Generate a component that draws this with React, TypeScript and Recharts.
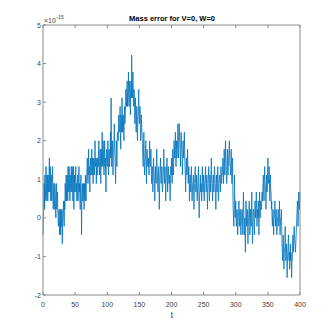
import React from 'react';
import { LineChart, Line, XAxis, YAxis } from 'recharts';

// mass error, in units of 1e-15, at whole steps t = 0..400
const seg000 = [
  -0.44, 0.22, 0.67, 1.11, 0.67, 1.33, 0.44, 0.89, 1.11, 0.67,
  1.55, 0.89, 0.44, 1.11, 0.67, 1.33, 0.22, 0.89, 0.44, 0.67,
  0, 0.89, 0.44, 0.22, -0.22, 0.22, -0.44, 0, 0.22, -0.22,
  -0.67, 0, 0.44, -0.22, 0.22, 0.67, 1.11, 0.44, 0.89, 1.33,
  0.67, 1.11, 0.44, 0.89, 1.33, 0.67, 1.11, 0.89, 0.22, 1.11,
];
const seg050 = [
  0.67, 1.33, 0.89, 0.44, 1.11, 0.67, 1.33, 0.89, 0.22, 1.11,
  -0.44, 0.67, 0.44, 0.89, 0.22, 0.67, 1.11, 0.44, 1.11, 1.55,
  0.89, 1.78, 1.33, 0.67, 1.55, 1.11, 1.78, 1.33, 0.89, 1.55,
  1.11, 2, 1.33, 0.89, 1.55, 1.11, 1.33, 2, 1.11, 1.78,
  0.89, 1.55, 2.22, 1.33, 1.78, 1.11, 2, 1.55, 0.67, 1.78,
];
const seg100 = [
  1.33, 2, 1.11, 1.78, 1.55, 2.22, 3.11, 1.33, 2, 1.11,
  1.78, 2.44, 1.55, 0.89, 2, 1.33, 2.22, 2, 2.67, 2.22,
  2.89, 1.78, 2.44, 3.11, 2.22, 2.67, 2, 2.89, 2.67, 3.33,
  2.89, 3.55, 3.11, 3.78, 2.89, 3.33, 2.67, 3.55, 4.22, 3.11,
  3.78, 2.89, 3.33, 2.44, 3.11, 2.22, 2.89, 2, 2.67, 3.33,
];
const seg150 = [
  2.44, 2.89, 2, 2.67, 2.22, 1.78, 1.33, 2.22, 1.11, 1.55,
  2, 0.89, 1.78, 1.33, 1.55, 1.11, 2, 1.33, 1.78, 0.89,
  1.33, 0.67, 1.55, 1.11, 0.44, 1.33, 0.89, 1.78, 1.11, 0.67,
  1.33, 0.22, 1.11, 1.55, 0.89, 1.33, 0.67, 1.11, 1.78, 0.89,
  1.33, 0.44, 1.11, 1.55, 0.67, 1.33, 0.89, 1.11, 0.44, 1.33,
];
const seg200 = [
  1.55, 0.89, 1.78, 1.11, 2, 1.55, 2.22, 1.33, 2, 1.78,
  2.44, 1.55, 2.44, 2, 1.33, 2.22, 1.78, 1.11, 2, 1.55,
  2.22, 1.33, 0.67, 1.55, 1.11, 1.78, 0.89, 1.33, 0.44, 1.11,
  0.67, 1.33, 0.44, 0.89, 1.11, 0.22, 0.89, 1.33, 0.67, 1.11,
  0.44, 0.89, 1.33, 0, 0.67, 1.11, 0.89, 0.44, 1.33, 0.67,
];
const seg250 = [
  1.11, 0.44, 0.89, 1.33, 0.67, 1.11, 0.22, 0.89, 1.33, 0.44,
  1.11, 0.67, 1.55, 0.89, 0.44, 1.11, 0.67, 1.33, 0.89, 0.22,
  1.11, 0.67, 1.33, 0.44, 0.89, 1.11, 0.67, 1.33, 0.89, 1.11,
  1.55, 0.89, 1.78, 1.11, 2, 1.33, 0.89, 1.78, 1.11, 1.55,
  2, 1.33, 1.11, 1.78, 0.89, 1.55, 0.22, -0.22, 1.11, 0,
];
const seg300 = [
  0.44, -0.22, 0.22, -0.44, 0, 0.44, -0.22, 0.22, -0.44, 0,
  0.22, -0.44, 0.67, -0.22, 0, -0.89, 0.44, -0.22, 0.22, -0.67,
  0, 0.44, -0.44, 0.22, -0.22, 0.67, -0.67, 0, 0.22, -0.44,
  0.44, 0, 0.67, -0.22, 0.22, 0.44, -0.44, 0.67, 0, 0.44,
  0.22, 0.67, 0.67, 1.11, 0.44, 1.33, 0.89, 0.22, 1.11, 0.67,
];
const seg350 = [
  1.55, 0.89, 1.33, 0.44, 1.11, 0.67, 0.44, -0.22, 0.22, -0.44,
  0, 0.44, -0.22, 0.22, -0.44, 0, 0.22, -0.22, 0.44, -0.44,
  0, 0.22, -0.67, -1.11, -0.44, -1.33, -0.89, -0.22, -1.11, -0.67,
  -1.55, -0.89, -0.44, -1.11, -1.33, -0.67, -0.89, -1.55, -1.11, -0.44,
  -0.89, -0.22, -0.67, -0.89, -0.44, 0, 0.44, -0.22, 0.67, 0.22,
  0.67,
];

// mass error at the half steps t = 0.5..399.5
const half000 = [
  0, 0.89, 0.22, 0.44, 1.33, 0.67, 1.11, 0.44, 0.67, 1.33,
  0.67, 1.33, 0.89, 0.44, 1.11, 0.44, 0.67, 0.22, 0.89, 0.22,
  0.67, 0.22, 0.67, 0, 0, -0.22, 0.22, -0.44, -0.22, 0.22,
  -0.22, 0.22, 0, 0.44, 0.89, 0.44, 0.67, 1.11, 0.44, 0.89,
  1.33, 0.67, 1.11, 0.67, 0.89, 1.33, 0.44, 1.33, 0.89, 0.67,
];
const half050 = [
  1.11, 0.67, 0.44, 0.89, 0.44, 1.11, 0.67, 0.44, 0.89, 0.67,
  0.44, 0.89, 0.67, 0.44, 0.89, 0.44, 0.67, 0.89, 1.33, 1.11,
  1.33, 1.11, 0.89, 1.33, 1.11, 1.55, 1.11, 1.55, 1.33, 1.11,
  1.55, 1.33, 1.55, 1.33, 1.11, 1.55, 1.78, 1.33, 1.55, 1.33,
  1.78, 1.33, 1.55, 2, 1.33, 1.55, 1.33, 1.11, 1.33, 1.55,
];
const half100 = [
  1.55, 1.33, 1.55, 1.33, 1.78, 1.55, 2, 1.78, 1.55, 1.78,
  2, 1.78, 1.33, 1.55, 1.78, 2, 2.22, 2.44, 2.22, 2.44,
  2.22, 2.67, 2.22, 2.67, 2.44, 2.22, 2.67, 2.44, 2.89, 3.11,
  3.33, 2.89, 3.33, 3.11, 3.55, 3.11, 3.33, 3.11, 3.55, 3.33,
  3.11, 3.33, 2.89, 2.67, 2.67, 2.44, 2.44, 2.44, 2.89, 2.67,
];
const half150 = [
  2.67, 2.44, 2.22, 2.44, 2, 1.55, 1.78, 1.55, 1.33, 1.78,
  1.33, 1.55, 1.55, 1.33, 1.33, 1.55, 1.55, 1.55, 1.33, 1.11,
  1.11, 1.11, 1.33, 0.89, 0.89, 1.11, 1.33, 1.33, 0.89, 1.11,
  0.89, 0.67, 1.33, 1.11, 1.11, 0.89, 0.89, 1.33, 1.33, 1.11,
  0.89, 0.89, 1.33, 1.11, 1.11, 1.11, 0.89, 0.67, 0.89, 1.11,
];
const half200 = [
  1.33, 1.33, 1.33, 1.55, 1.78, 1.78, 1.78, 1.78, 1.55, 2,
  2, 2, 2.22, 1.78, 1.78, 2, 1.55, 1.55, 1.78, 1.78,
  1.78, 1.11, 1.11, 1.33, 1.33, 1.33, 1.11, 0.89, 0.89, 0.89,
  1.11, 0.89, 0.67, 0.89, 0.67, 0.67, 1.11, 0.89, 0.89, 0.67,
  0.67, 1.11, 0.67, 0.44, 0.89, 0.67, 0.67, 0.89, 0.89, 0.89,
];
const half250 = [
  0.67, 0.89, 1.11, 0.89, 0.89, 0.67, 0.67, 1.11, 0.89, 0.67,
  0.89, 1.11, 1.11, 0.67, 0.89, 0.89, 1.11, 1.11, 0.67, 0.67,
  0.89, 1.11, 0.89, 0.67, 1.11, 0.89, 0.89, 1.11, 1.11, 1.33,
  1.33, 1.33, 1.55, 1.55, 1.55, 1.11, 1.33, 1.33, 1.33, 1.78,
  1.55, 1.33, 1.55, 1.33, 1.33, 0.67, 0, 0.22, 0.44, 0.22,
];
const half300 = [
  0, 0, 0, -0.22, 0.22, 0, 0, -0.22, -0.22, 0.22,
  0, 0.22, 0.22, -0.44, -0.44, -0.22, 0, 0, -0.22, -0.22,
  0.22, 0, -0.22, 0, 0.22, 0, -0.22, 0.22, -0.22, 0,
  0.22, 0.22, 0.22, 0, 0, 0.22, 0, 0.22, 0.22, 0.22,
  0.44, 0.44, 0.89, 0.67, 0.89, 0.89, 0.67, 0.67, 0.89, 1.11,
];
const half350 = [
  1.11, 1.11, 0.89, 0.89, 0.67, 0.22, 0, 0, 0, 0,
  0.22, 0, 0, -0.22, -0.22, 0, 0, 0, 0, -0.22,
  0, -0.22, -0.89, -0.67, -0.89, -0.89, -0.67, -0.67, -0.89, -1.11,
  -1.11, -0.67, -0.89, -0.89, -0.89, -1.11, -1.11, -1.11, -0.67, -0.67,
  -0.44, -0.44, -0.67, -0.67, -0.22, 0.22, 0.22, 0.22, 0.44, 0.44,
];

const xTicks = [0, 50, 100, 150, 200, 250, 300, 350, 400];
const yTicks = [-2, -1, 0, 1, 2, 3, 4, 5];

const whole = [...seg000, ...seg050, ...seg100, ...seg150, ...seg200, ...seg250, ...seg300, ...seg350];
const halves = [...half000, ...half050, ...half100, ...half150, ...half200, ...half250, ...half300, ...half350];

const data: { t: number; err: number }[] = [];
whole.forEach((v, i) => {
  data.push({ t: i, err: v });
  if (i < halves.length) data.push({ t: i + 0.5, err: halves[i] });
});

const AXIS = '#8a8a8a';
const TXT = '#404040';
const FONT = '"Liberation Sans Narrow", "Liberation Sans", Arial, sans-serif';

const BottomTick = (p: any) => (
  <g>
    <line x1={p.x} y1={p.y} x2={p.x} y2={p.y - 3} stroke={AXIS} />
    <text x={p.x} y={p.y + 12} textAnchor="middle" fontSize={7} fill={TXT} fontFamily={FONT}>
      {p.payload.value}
    </text>
  </g>
);
const TopTick = (p: any) => <line x1={p.x} y1={p.y} x2={p.x} y2={p.y + 3} stroke={AXIS} />;
const LeftTick = (p: any) => (
  <g>
    <line x1={p.x} y1={p.y} x2={p.x + 3} y2={p.y} stroke={AXIS} />
    <text x={p.x - 2} y={p.y + 2.5} textAnchor="end" fontSize={7} fill={TXT} fontFamily={FONT}>
      {p.payload.value}
    </text>
  </g>
);
const RightTick = (p: any) => <line x1={p.x} y1={p.y} x2={p.x - 3} y2={p.y} stroke={AXIS} />;

export default function App() {
  return (
    <div style={{ position: 'relative', width: 324, height: 324, background: '#fff' }}>
      <LineChart width={324} height={324} data={data} margin={{ top: 16, right: 31, bottom: 17, left: 15 }}>
        <XAxis
          dataKey="t" type="number" domain={[0, 400]} ticks={xTicks} height={20}
          axisLine={{ stroke: AXIS }} tickLine={false} tickSize={0} tickMargin={0} tick={BottomTick}
        />
        <XAxis
          xAxisId="top" orientation="top" dataKey="t" type="number" domain={[0, 400]} ticks={xTicks} height={1}
          axisLine={{ stroke: AXIS }} tickLine={false} tickSize={0} tickMargin={0} tick={TopTick}
        />
        <YAxis
          type="number" domain={[-2, 5]} ticks={yTicks} width={20}
          axisLine={{ stroke: AXIS }} tickLine={false} tickSize={0} tickMargin={0} tick={LeftTick}
        />
        <YAxis
          yAxisId="right" orientation="right" type="number" domain={[-2, 5]} ticks={yTicks} width={1}
          axisLine={{ stroke: AXIS }} tickLine={false} tickSize={0} tickMargin={0} tick={RightTick}
        />
        <Line
          type="linear" dataKey="err" stroke="#0072BD" strokeWidth={0.8}
          dot={false} activeDot={false} isAnimationActive={false}
        />
      </LineChart>
      <svg width={324} height={324} style={{ position: 'absolute', left: 0, top: 0, pointerEvents: 'none' }}>
        <text x={164} y={13} textAnchor="middle" fontSize={7.5} fontWeight="bold" fill="#000" fontFamily={FONT}>
          Mass error for V=0, W=0
        </text>
        <text x={36} y={15} fontSize={7} fill={TXT} fontFamily={FONT}>×10</text>
        <text x={48.5} y={11} fontSize={5} fill={TXT} fontFamily={FONT}>-15</text>
        <text x={164} y={310} textAnchor="middle" fontSize={8.5} fill={TXT} fontFamily={FONT}>t</text>
      </svg>
    </div>
  );
}
